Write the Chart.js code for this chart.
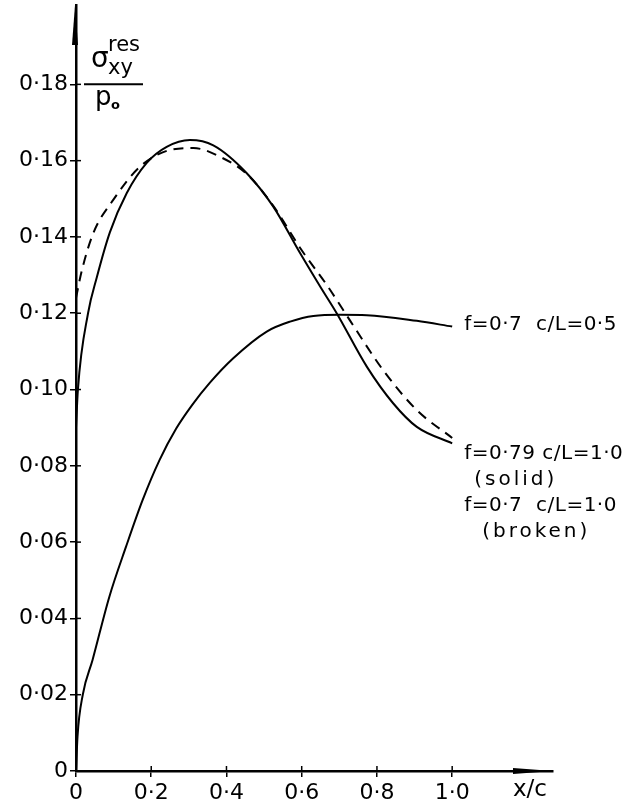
<!DOCTYPE html>
<html>
<head>
<meta charset="utf-8">
<script src="https://cdn.jsdelivr.net/npm/chart.js@4/dist/chart.umd.min.js"></script>
<style>
  html, body { margin: 0; padding: 0; background: #fff; }
  #wrap { width: 625px; height: 806px; }
</style>
</head>
<body>
<div id="wrap"><canvas id="mycanvas"></canvas></div>
<script>
// f=0.7 c/L=0.5 (lower solid curve)
var xA = [0, 0.004, 0.018, 0.044, 0.0887, 0.133, 0.177, 0.222, 0.266, 0.31, 0.356, 0.418, 0.507, 0.569, 0.631, 0.702, 0.773, 0.906, 1.0];
var yA = [0, 0.009, 0.02, 0.0291, 0.0457, 0.0588, 0.071, 0.0815, 0.0897, 0.0961, 0.1018, 0.1082, 0.1152, 0.1178, 0.1193, 0.1196, 0.1195, 0.118, 0.1165];

// f=0.79 c/L=1.0 (solid)
var xB = [0, 0.005, 0.032, 0.055, 0.09, 0.135, 0.188, 0.241, 0.303, 0.365, 0.454, 0.524, 0.596, 0.649, 0.693, 0.773, 0.843, 0.906, 1.0];
var yB = [0.09, 0.0999, 0.120, 0.1293, 0.1412, 0.1515, 0.1594, 0.1636, 0.1654, 0.164, 0.1567, 0.148, 0.1357, 0.127, 0.12, 0.106, 0.0964, 0.0902, 0.0859];

// f=0.7 c/L=1.0 (broken)
var xC = [0, 0.015, 0.046, 0.099, 0.17, 0.25, 0.312, 0.383, 0.454, 0.524, 0.6, 0.666, 0.729, 0.817, 0.906, 1.0];
var yC = [0.124, 0.131, 0.141, 0.1497, 0.1584, 0.1628, 0.1633, 0.161, 0.1565, 0.1482, 0.1365, 0.1275, 0.118, 0.105, 0.0946, 0.0873];

var xTickLabels = ['0', '0·2', '0·4', '0·6', '0·8', '1·0'];
var yTickLabels = ['0', '0·02', '0·04', '0·06', '0·08', '0·10', '0·12', '0·14', '0·16', '0·18'];
var curveLabels = ['f=0·7  c/L=0·5', 'f=0·79 c/L=1·0', '(solid)', 'f=0·7  c/L=1·0', '(broken)'];

function pts(xs, ys) {
  return xs.map(function(x, i){ return {x: x, y: ys[i]}; });
}

var FONT = '"DejaVu Sans", sans-serif';

var extras = {
  id: 'extras',
  afterDraw: function(chart) {
    var ctx = chart.ctx, a = chart.chartArea;
    var xs = chart.scales.x, ys = chart.scales.y;
    ctx.save();
    ctx.strokeStyle = '#000';
    ctx.fillStyle = '#000';

    // tick marks crossing into the plot
    ctx.lineWidth = 1.5;
    ys.ticks.forEach(function(t){
      var py = ys.getPixelForValue(t.value);
      ctx.beginPath(); ctx.moveTo(a.left, py); ctx.lineTo(a.left + 5, py); ctx.stroke();
    });
    xs.ticks.forEach(function(t){
      var px = xs.getPixelForValue(t.value);
      ctx.beginPath(); ctx.moveTo(px, a.bottom); ctx.lineTo(px, a.bottom - 5); ctx.stroke();
    });

    // arrow heads
    ctx.beginPath();
    ctx.moveTo(a.left - 1, a.top);
    ctx.lineTo(a.left - 4, a.top + 40);
    ctx.lineTo(a.left + 2, a.top + 40);
    ctx.closePath(); ctx.fill();
    ctx.beginPath();
    ctx.moveTo(a.right, a.bottom);
    ctx.lineTo(a.right - 40, a.bottom - 3);
    ctx.lineTo(a.right - 40, a.bottom + 3);
    ctx.closePath(); ctx.fill();

    // x axis title
    ctx.textBaseline = 'middle';
    ctx.textAlign = 'left';
    ctx.font = '23px ' + FONT;
    ctx.fillText('x/c', a.right - 40, a.bottom + 19);

    // y axis title: sigma_xy^res / p_o
    var p18 = ys.getPixelForValue(0.18);
    ctx.textBaseline = 'alphabetic';
    ctx.font = '28px ' + FONT;
    ctx.fillText('σ', a.left + 15, p18 - 17);
    ctx.font = '21px ' + FONT;
    ctx.fillText('res', a.left + 32, p18 - 33);
    ctx.fillText('xy', a.left + 32, p18 - 10);
    ctx.lineWidth = 2;
    ctx.beginPath(); ctx.moveTo(a.left + 8, p18); ctx.lineTo(a.left + 67, p18); ctx.stroke();
    ctx.font = '26px ' + FONT;
    ctx.fillText('p', a.left + 19, p18 + 21);
    ctx.font = 'bold 13px ' + FONT;
    ctx.fillText('o', a.left + 35, p18 + 25);

    // curve labels next to curve ends
    var mA = chart.getDatasetMeta(0).data, mB = chart.getDatasetMeta(1).data;
    var eA = mA[mA.length - 1], eB = mB[mB.length - 1];
    ctx.font = '20px ' + FONT;
    ctx.textBaseline = 'middle';
    ctx.letterSpacing = '0.5px';
    ctx.fillText(curveLabels[0], eA.x + 12, eA.y - 2);
    ctx.fillText(curveLabels[1], eB.x + 12, eB.y + 10);
    ctx.fillText(curveLabels[3], eB.x + 12, eB.y + 62);
    ctx.letterSpacing = '3px';
    ctx.fillText(curveLabels[2], eB.x + 22, eB.y + 36);
    ctx.fillText(curveLabels[4], eB.x + 30, eB.y + 88);
    ctx.restore();
  }
};

var ctx = document.getElementById('mycanvas');
var chart = new Chart(ctx, {
  type: 'line',
  data: {
    datasets: [
      { data: pts(xA, yA), borderColor: '#000', borderWidth: 2, pointRadius: 0, cubicInterpolationMode: 'monotone', fill: false },
      { data: pts(xB, yB), borderColor: '#000', borderWidth: 2, pointRadius: 0, cubicInterpolationMode: 'monotone', fill: false },
      { data: pts(xC, yC), borderColor: '#000', borderWidth: 2, borderDash: [10, 7], pointRadius: 0, cubicInterpolationMode: 'monotone', fill: false }
    ]
  },
  options: {
    responsive: true,
    maintainAspectRatio: false,
    animation: false,
    layout: { padding: { top: 5, right: 72, left: 0, bottom: 0 } },
    plugins: { legend: { display: false }, tooltip: { enabled: false } },
    scales: {
      x: {
        type: 'linear', min: 0, max: 1.268,
        grid: { display: true, drawOnChartArea: false, drawTicks: true, tickLength: 6, color: '#000', lineWidth: 1.5 },
        border: { display: true, color: '#000', width: 2.5 },
        ticks: {
          stepSize: 0.2, color: '#000', padding: 3, maxRotation: 0,
          font: { family: 'DejaVu Sans', size: 22 },
          callback: function(v, i){ return xTickLabels[i]; }
        },
        afterBuildTicks: function(s){ s.ticks = s.ticks.filter(function(t){ return t.value <= 1.0001; }); },
        afterFit: function(s){ s.height = 35; s.paddingLeft = 0; s.paddingRight = 0; }
      },
      y: {
        type: 'linear', min: 0, max: 0.2008,
        grid: { display: true, drawOnChartArea: false, drawTicks: true, tickLength: 6, color: '#000', lineWidth: 1.5 },
        border: { display: true, color: '#000', width: 2.5 },
        ticks: {
          stepSize: 0.02, color: '#000', padding: 2,
          font: { family: 'DejaVu Sans', size: 22 },
          callback: function(v, i){ return yTickLabels[i]; }
        },
        afterBuildTicks: function(s){ s.ticks = s.ticks.filter(function(t){ return t.value <= 0.1801; }); },
        afterFit: function(s){ s.width = 76; s.paddingTop = 0; s.paddingBottom = 0; }
      }
    }
  },
  plugins: [extras]
});
</script>
</body>
</html>
